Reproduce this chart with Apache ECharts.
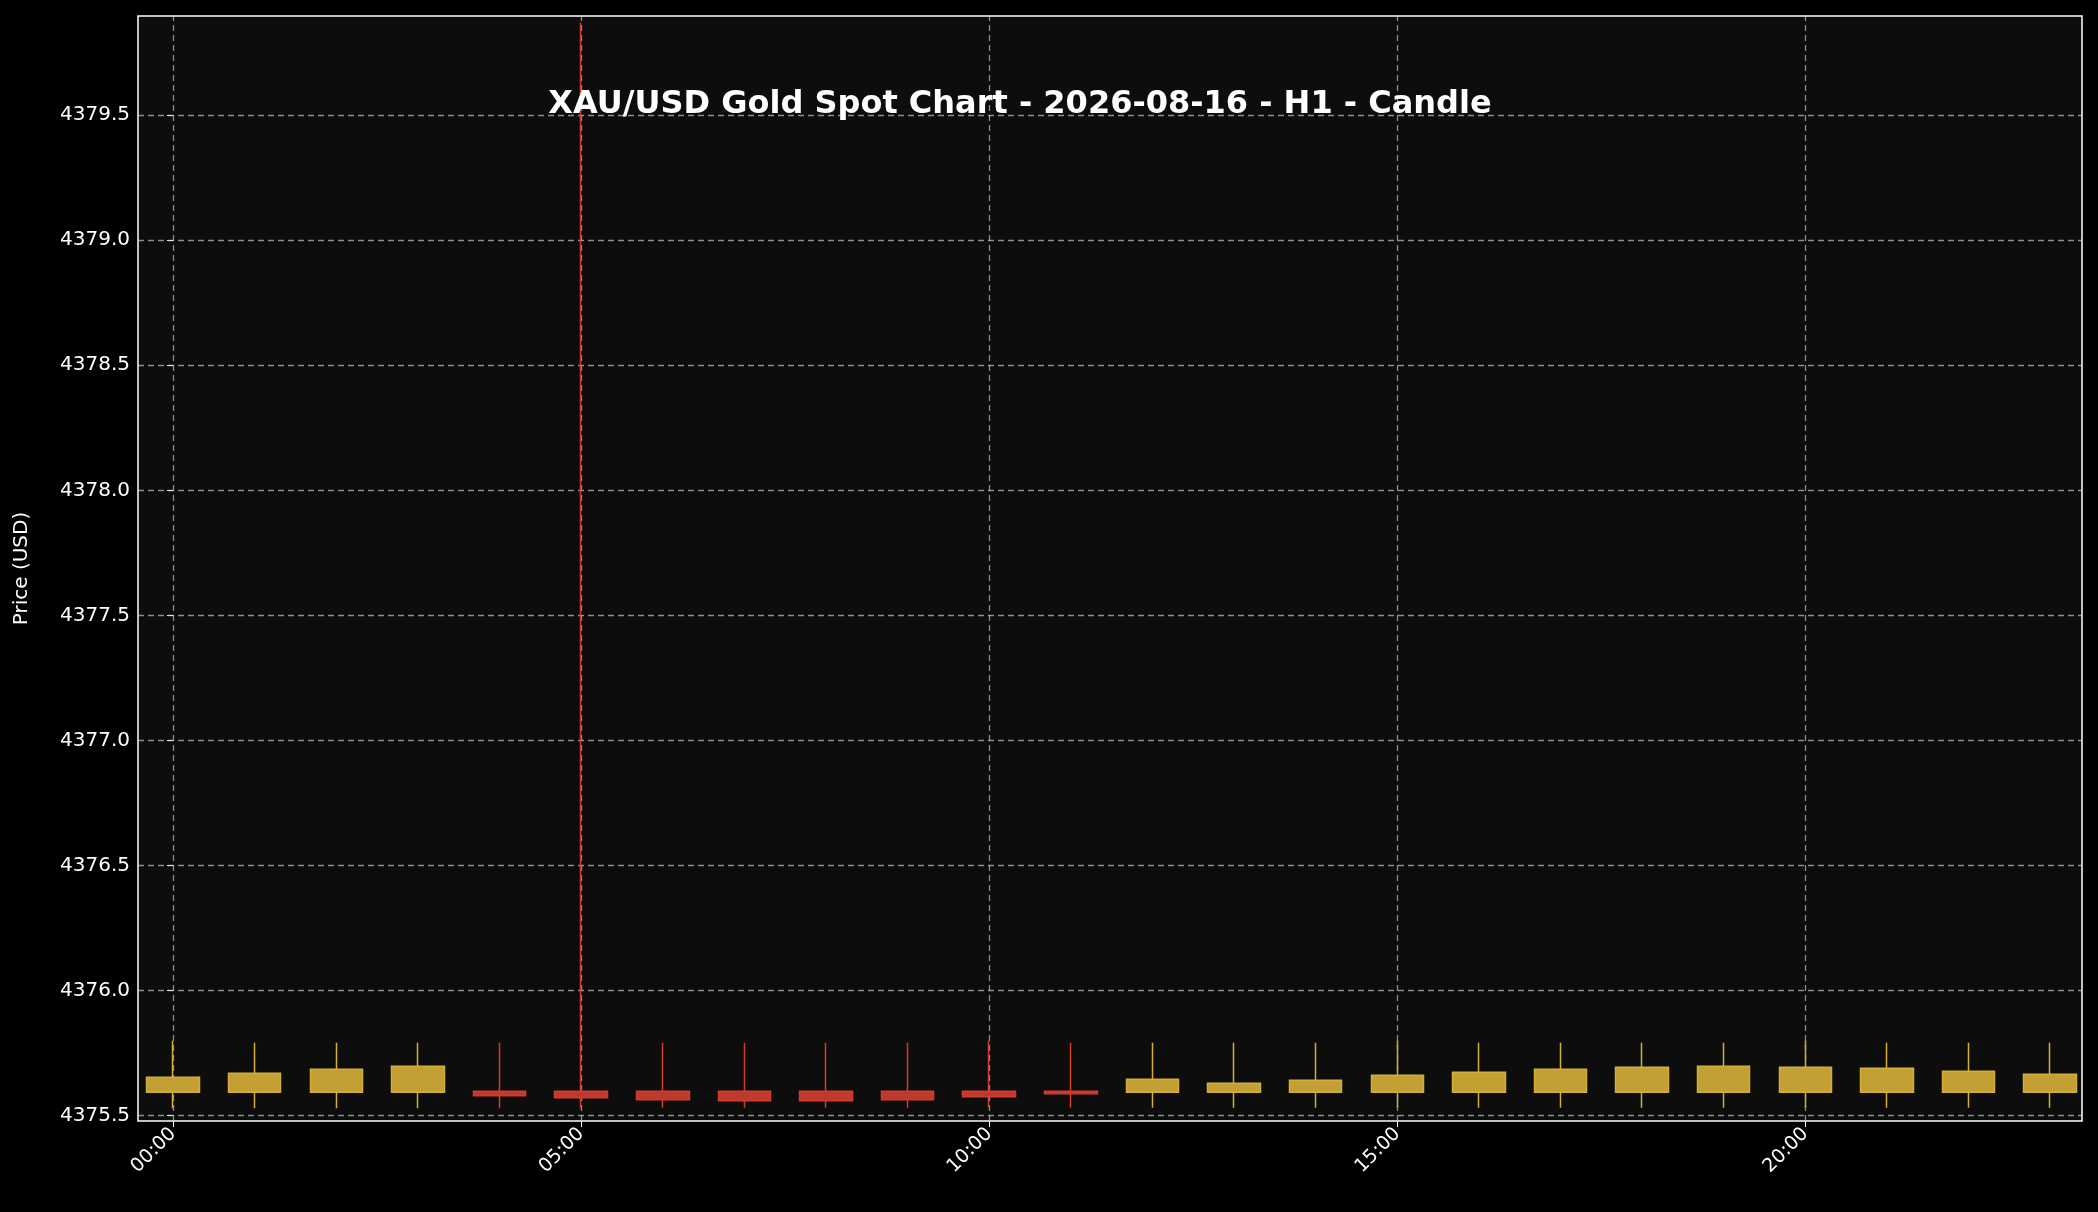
<!DOCTYPE html>
<html><head><meta charset="utf-8">
<script src="https://cdn.jsdelivr.net/npm/echarts@6/dist/echarts.min.js"></script>
<style>html,body{margin:0;background:#000}#c{width:2098px;height:1212px}</style></head>
<body><div id="c"></div>
<script>
const hours = [0,1,2,3,4,5,6,7,8,9,10,11,12,13,14,15,16,17,18,19,20,21,22,23];
const opens = [4375.594,4375.594,4375.594,4375.594,4375.598,4375.598,4375.598,4375.598,4375.598,4375.598,4375.598,4375.598,4375.594,4375.594,4375.594,4375.594,4375.594,4375.594,4375.594,4375.594,4375.594,4375.594,4375.594,4375.594];
const closes = [4375.654,4375.670,4375.686,4375.698,4375.580,4375.572,4375.564,4375.560,4375.560,4375.564,4375.576,4375.588,4375.646,4375.630,4375.642,4375.662,4375.674,4375.686,4375.694,4375.698,4375.694,4375.690,4375.678,4375.666];
const lows = [4375.530,4375.530,4375.530,4375.530,4375.530,4375.530,4375.532,4375.532,4375.532,4375.532,4375.532,4375.532,4375.532,4375.532,4375.532,4375.532,4375.532,4375.532,4375.532,4375.532,4375.532,4375.532,4375.532,4375.532];
const highs = [4375.800,4375.792,4375.792,4375.792,4375.792,4379.870,4375.792,4375.792,4375.792,4375.792,4375.800,4375.792,4375.792,4375.792,4375.792,4375.800,4375.792,4375.792,4375.792,4375.792,4375.800,4375.792,4375.792,4375.792];
const xTicks = [0,5,10,15,20];
const xTickLabels = ['00:00','05:00','10:00','15:00','20:00'];
const yTicks = [4375.5,4376.0,4376.5,4377.0,4377.5,4378.0,4378.5,4379.0,4379.5];

const data = hours.map((h,i)=>[h,opens[i],closes[i],lows[i],highs[i]]);
const gridStyle = {color:'rgba(210,210,210,0.65)',type:[6,4],width:1.3};
const chart = echarts.init(document.getElementById('c'));
chart.setOption({
  backgroundColor:'#000',
  animation:false,
  title:{text:'XAU/USD Gold Spot Chart - 2026-08-16 - H1 - Candle',left:1015,top:84,textAlign:'center',
    textStyle:{color:'#fff',fontSize:32,fontWeight:'bold',fontFamily:'DejaVu Sans'}},
  grid:{left:138,right:16,top:16,bottom:91,show:true,backgroundColor:'#0d0d0d',borderColor:'#fff',borderWidth:1.5},
  xAxis:{type:'value',min:-0.43,max:23.39,
    axisLine:{show:false},splitLine:{show:false},
    axisTick:{customValues:xTicks,lineStyle:{color:'#fff'},length:6},
    axisLabel:{customValues:xTicks,rotate:45,color:'#fff',fontSize:19,fontFamily:'DejaVu Sans',margin:10,
      formatter:v=>xTickLabels[xTicks.indexOf(v)]}},
  yAxis:{type:'value',min:4375.479,max:4379.896,name:'Price (USD)',nameLocation:'middle',nameGap:106,
    nameTextStyle:{color:'#fff',fontSize:20,fontFamily:'DejaVu Sans'},
    axisLine:{show:false},splitLine:{show:false},
    axisTick:{customValues:yTicks,lineStyle:{color:'#fff'},length:6},
    axisLabel:{customValues:yTicks,color:'#fff',fontSize:20,fontFamily:'DejaVu Sans',formatter:v=>v.toFixed(1)}},
  series:[
    {type:'line',data:[],z:1,silent:true,
     markLine:{silent:true,symbol:'none',label:{show:false},lineStyle:gridStyle,
      data:[...xTicks.map(v=>({xAxis:v})),...yTicks.map(v=>({yAxis:v}))]}},
    {type:'candlestick',data:data,barWidth:53,z:5,
    itemStyle:{color:'#c2a033',borderColor:'#d4af37',color0:'#bf3a2e',borderColor0:'#d63a2a',borderWidth:1.5}}
  ]
});
</script></body></html>
